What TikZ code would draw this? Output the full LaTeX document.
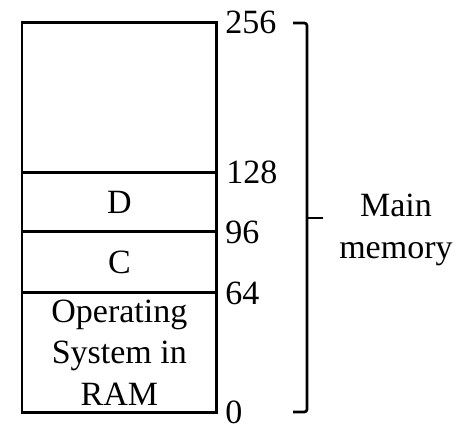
\documentclass[tikz,border=0pt]{standalone}
\usepackage{fontspec}
\setmainfont{Liberation Serif}
\begin{document}
\begin{tikzpicture}[x=0.75pt,y=-0.75pt,
  region/.style={draw, line width=2pt, minimum width=194.7*0.75pt, inner sep=0pt,
     align=center, font=\fontsize{25.5}{31}\selectfont},
  addr/.style={anchor=west, inner sep=0pt, font=\fontsize{25.5}{31}\selectfont},
  brace/.style={line width=2pt, rounded corners=2pt}]
\useasboundingbox (0,0) rectangle (465,425);
\node[region, minimum height=150*0.75pt]   (free) at (119.35,97.7) {};
\node[region, minimum height=59*0.75pt]    (D)    at (119.35,202.2) {D};
\node[region, minimum height=60.6*0.75pt]  (C)    at (119.35,262) {C};
\node[region, minimum height=120.4*0.75pt] (OS)   at (119.35,352.5) {Operating\\System in\\RAM};
\node[addr] (a256) at (225,22.7) {256};
\node[addr] (a128) at (226,172.7) {128};
\node[addr] (a96)  at (225,232) {96};
\node[addr] (a64)  at (225,293) {64};
\node[addr] (a0)   at (225,412.7) {0};
\coordinate (bt) at (293,23);
\coordinate (bb) at (293,412);
\coordinate (bm) at (323,218);
\draw[brace] (bt) -- (307,23) -- (307,412) -- (bb);
\draw[line width=2pt] (307,218) -- (bm);
\node[anchor=west, align=center, font=\fontsize{25.5}{31}\selectfont, inner sep=0pt] (mm) at (339,230) {Main\\memory};
\end{tikzpicture}
\end{document}
